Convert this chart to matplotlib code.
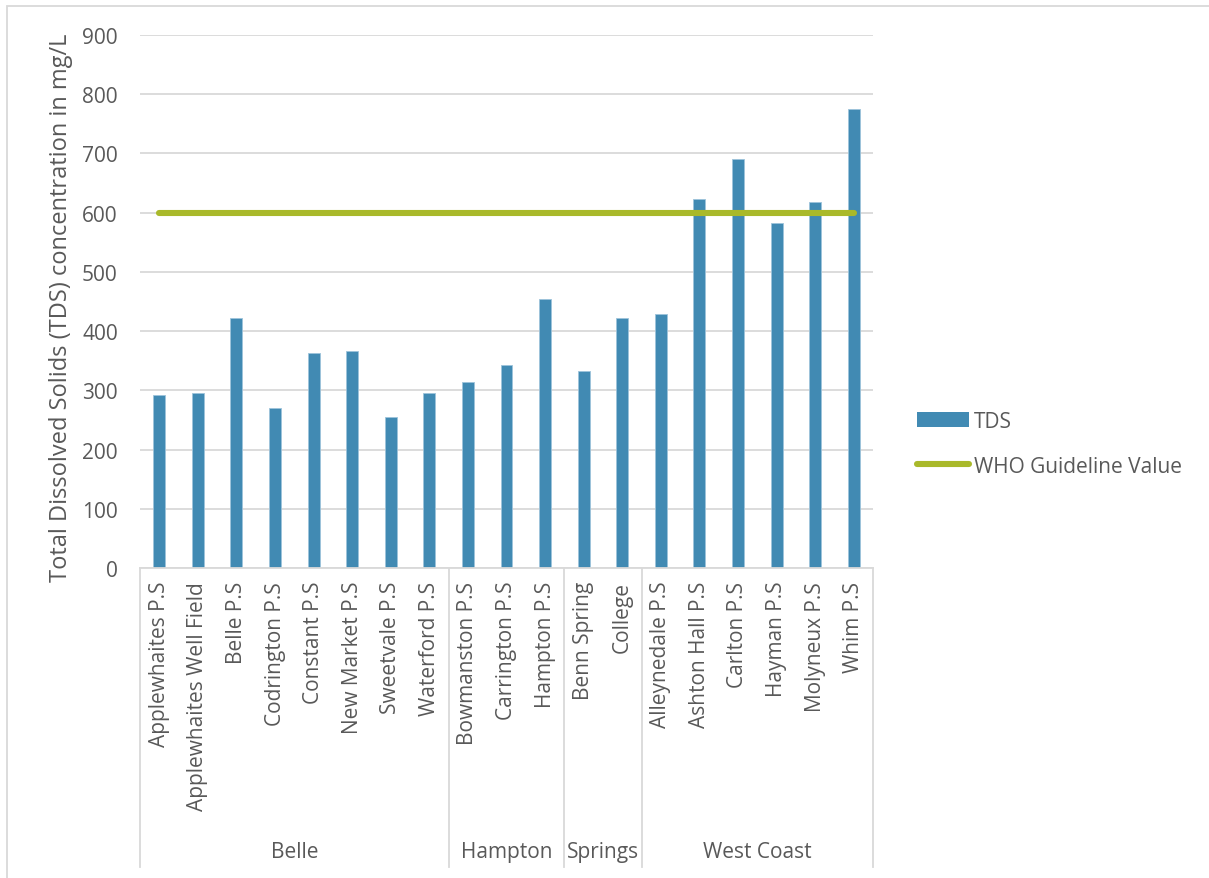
import matplotlib
matplotlib.use('Agg')
import matplotlib.pyplot as plt
import matplotlib.transforms as mtransforms
from matplotlib.patches import Patch, Rectangle
from matplotlib.lines import Line2D

plt.rcParams['font.family'] = ['Open Sans', 'DejaVu Sans']

stations = ['Applewhaites P.S', 'Applewhaites Well Field', 'Belle P.S', 'Codrington P.S',
            'Constant P.S', 'New Market P.S', 'Sweetvale P.S', 'Waterford P.S',
            'Bowmanston P.S', 'Carrington P.S', 'Hampton P.S',
            'Benn Spring', 'College',
            'Alleynedale P.S', 'Ashton Hall P.S', 'Carlton P.S', 'Hayman P.S',
            'Molyneux P.S', 'Whim P.S']
tds = [292, 296, 423, 270, 363, 366, 255, 296,
       314, 343, 454,
       333, 422,
       429, 623, 690, 583, 618, 775]
groups = ['Belle', 'Hampton', 'Springs', 'West Coast']
group_sizes = [8, 3, 2, 6]
who_limit = 600

bar_col = '#418AB3'
line_col = '#A9B92A'
grid_col = '#D9D9D9'
txt_col = '#595959'

fig = plt.figure(figsize=(12.09, 8.79), dpi=100)
ax = fig.add_axes([0.1158, 0.3523, 0.6063, 0.6071])

x = list(range(len(stations)))
ax.bar(x, tds, width=0.31, color=bar_col, edgecolor='#9DC3DB', linewidth=0.6,
       zorder=2, label='TDS')
ax.plot([x[0], x[-1]], [who_limit, who_limit], color=line_col, lw=4.4,
        solid_capstyle='round', zorder=3, label='WHO Guideline Value')

ax.set_xlim(-0.5, len(stations) - 0.5)
ax.set_ylim(0, 900)
ax.set_yticks(range(0, 901, 100))
ax.yaxis.grid(True, color=grid_col, lw=1.3, zorder=0)
ax.set_axisbelow(True)
for s in ['top', 'right', 'left']:
    ax.spines[s].set_visible(False)
ax.spines['bottom'].set_color(grid_col)
ax.spines['bottom'].set_linewidth(1.3)

ax.set_xticks(x)
ax.set_xticklabels(stations, rotation=90, va='top', ha='center')
ax.tick_params(axis='x', length=0, pad=9, labelsize=15, labelcolor=txt_col)
ax.tick_params(axis='y', length=0, pad=16, labelsize=15, labelcolor=txt_col)

ax.set_ylabel('Total Dissolved Solids (TDS) concentration in mg/L', fontsize=17, color=txt_col)
ax.yaxis.set_label_coords(-0.092, 0.49)

# group brackets under the station names
trans = mtransforms.blended_transform_factory(ax.transData, ax.transAxes)
edges = [-0.5]
for n in group_sizes:
    edges.append(edges[-1] + n)
for e in edges:
    ax.plot([e, e], [0, -0.56], transform=trans, color=grid_col, lw=1.3, clip_on=False)
for g, a, b in zip(groups, edges[:-1], edges[1:]):
    ax.text((a + b) / 2, -0.53, g, transform=trans, ha='center', va='center',
            fontsize=15, color=txt_col)

handles = [Patch(facecolor=bar_col, edgecolor='none'),
           Line2D([0], [0], color=line_col, lw=4.4, solid_capstyle='round')]
leg = fig.legend(handles, ['TDS', 'WHO Guideline Value'], loc='center left',
                 bbox_to_anchor=(0.743, 0.494), frameon=False, fontsize=15,
                 handlelength=2.5, handleheight=0.7, handletextpad=0.25,
                 labelspacing=1.15, labelcolor=txt_col)

fig.patches.append(Rectangle((7 / 1209, -0.01), 1.1, 1 - 7 / 879 + 0.01,
                             transform=fig.transFigure, fill=False,
                             edgecolor=grid_col, lw=1.3))

fig.savefig('out.png', dpi=100)
